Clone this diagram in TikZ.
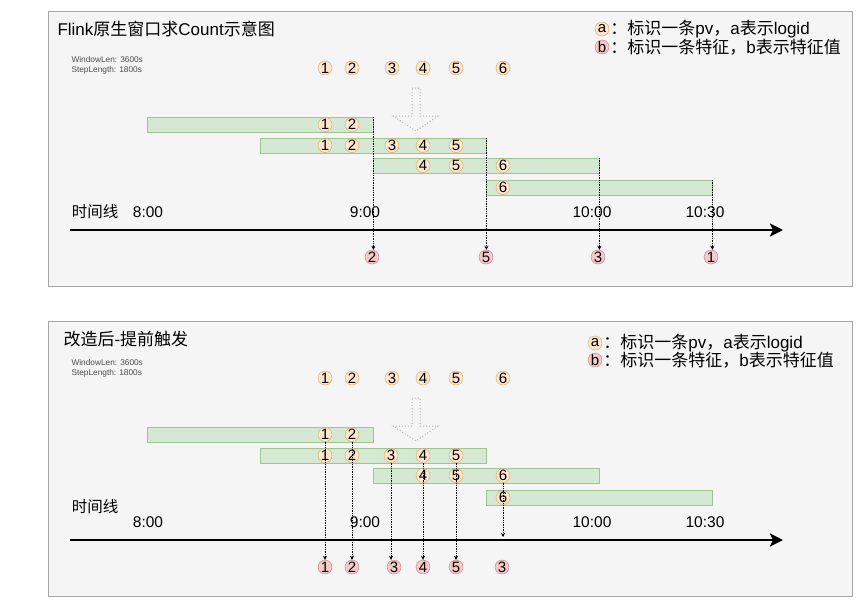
\documentclass[tikz,border=0pt]{standalone}
\usepackage{fontspec}
\setmainfont{Liberation Sans}
\newfontfamily\cjk{Noto Sans CJK SC}
\usetikzlibrary{arrows.meta, positioning}
\definecolor{panelbg}{HTML}{F5F5F5}
\definecolor{panelline}{HTML}{A6A6A6}
\definecolor{pvfill}{HTML}{FFE6CC}
\definecolor{pvline}{HTML}{D2A55E}
\definecolor{featfill}{HTML}{F6CACA}
\definecolor{featline}{HTML}{BF7A7A}
\definecolor{winfill}{HTML}{D5E8D4}
\definecolor{winline}{HTML}{9FC48F}

\begin{document}
\begin{tikzpicture}[x=1pt, y=-1pt,
    pv/.style={circle, draw=pvline, fill=pvfill, minimum size=14pt, inner sep=0pt, font=\fontsize{15}{15}\selectfont},
    feat/.style={circle, draw=featline, fill=featfill, minimum size=14pt, inner sep=0pt, font=\fontsize{15}{15}\selectfont},
    win/.style={rectangle, draw=winline, fill=winfill, minimum width=226pt, minimum height=15pt, inner sep=0pt, anchor=north west},
    heading/.style={anchor=west, font=\fontsize{17}{20}\selectfont},
    param/.style={anchor=west, align=left, text=black!70, font=\fontsize{8.3}{10}\selectfont},
    timetxt/.style={font=\fontsize{15.5}{18}\selectfont},
    legtxt/.style={font=\fontsize{17}{18}\selectfont, inner sep=1pt},
    trig/.style={densely dotted, line width=0.7pt, -{Stealth[length=4pt, width=4pt]}},
    axis/.style={line width=2.6pt, -{Stealth[length=13pt, width=13pt, inset=3pt]}},
    hollow/.style={dotted, draw=black!30, line width=1pt},
    panel/.style={draw=panelline, fill=panelbg, line width=0.8pt}]
    \useasboundingbox (0,0) rectangle (864,608);

    % panel 1: flink native window
    \draw[panel] (48,11) rectangle (852,286);
    \node[heading] (A) at (54,29) {Flink{\cjk 原生窗口求}Count{\cjk 示意图}};
    \node[param] (Aparam) at (68,65) {WindowLen: 3600s\\StepLength: 1800s};
    \node[pv] (La) at (602,29) {a};
    \node[legtxt, right=0pt of La] {{\cjk ：标识一条}pv{\cjk ，}a{\cjk 表示}logid};
    \node[feat] (Lb) at (602,47) {b};
    \node[legtxt, right=0pt of Lb] {{\cjk ：标识一条特征，}b{\cjk 表示特征值}};

    \node[pv] (An1) at (325,68) {1};
    \node[pv] (An2) at (352,68) {2};
    \node[pv] (An3) at (392,68) {3};
    \node[pv] (An4) at (423,68) {4};
    \node[pv] (An5) at (456,68) {5};
    \node[pv] (An6) at (503,68) {6};
    \draw[hollow] (412,88) -- (420,88) -- (420,116) -- (438,116) -- (416,131) -- (393,116) -- (412,116) -- cycle;

    \node[win] (A1) at (147,117) {};
    \node[win] (A2) at (260,138) {};
    \node[win] (A3) at (373,158) {};
    \node[win] (A4) at (486,180) {};
    \node[pv] (A1-1) at (325,124.5) {1};
    \node[pv] (A1-2) at (352,124.5) {2};
    \node[pv] (A2-1) at (325,145.5) {1};
    \node[pv] (A2-2) at (352,145.5) {2};
    \node[pv] (A2-3) at (392,145.5) {3};
    \node[pv] (A2-4) at (423,145.5) {4};
    \node[pv] (A2-5) at (456,145.5) {5};
    \node[pv] (A3-4) at (423,165.5) {4};
    \node[pv] (A3-5) at (456,165.5) {5};
    \node[pv] (A3-6) at (503,165.5) {6};
    \node[pv] (A4-6) at (503,187.5) {6};

    \node[timetxt] (At) at (95,212) {\cjk 时间线};
    \node[timetxt] (At800) at (148,212) {8:00};
    \node[timetxt] (At900) at (365,212) {9:00};
    \node[timetxt] (At1000) at (592,212) {10:00};
    \node[timetxt] (At1030) at (705,212) {10:30};
    \coordinate (Aax0) at (70,230);
    \coordinate (Aax1) at (783,230);
    \draw[axis] (Aax0) -- (Aax1);

    \node[feat] (Ar2) at (372,257) {2};
    \node[feat] (Ar5) at (486,257) {5};
    \node[feat] (Ar3) at (598,257) {3};
    \node[feat] (Ar1) at (711,257) {1};
    \draw[trig] (A1.north east) -- (A1.north east |- Ar2.north);
    \draw[trig] (A2.north east) -- (A2.north east |- Ar5.north);
    \draw[trig] (A3.north east) -- (A3.north east |- Ar3.north);
    \draw[trig] (A4.north east) -- (A4.north east |- Ar1.north);

    % panel 2: early trigger
    \draw[panel] (48,321) rectangle (852,596);
    \node[heading] (B) at (60,339) {{\cjk 改造后}-{\cjk 提前触发}};
    \node[param] (Bparam) at (68,368) {WindowLen: 3600s\\StepLength: 1800s};
    \node[pv] (Ma) at (595,343) {a};
    \node[legtxt, right=0pt of Ma] {{\cjk ：标识一条}pv{\cjk ，}a{\cjk 表示}logid};
    \node[feat] (Mb) at (595,360) {b};
    \node[legtxt, right=0pt of Mb] {{\cjk ：标识一条特征，}b{\cjk 表示特征值}};

    \node[pv] (Bn1) at (325,378) {1};
    \node[pv] (Bn2) at (352,378) {2};
    \node[pv] (Bn3) at (392,378) {3};
    \node[pv] (Bn4) at (423,378) {4};
    \node[pv] (Bn5) at (456,378) {5};
    \node[pv] (Bn6) at (503,378) {6};
    \draw[hollow] (412,398) -- (420,398) -- (420,426) -- (438,426) -- (416,441) -- (393,426) -- (412,426) -- cycle;

    \node[win] (B1) at (147,427) {};
    \node[win] (B2) at (260,448) {};
    \node[win] (B3) at (373,468) {};
    \node[win] (B4) at (486,490) {};
    \node[pv] (B1-1) at (325,434.5) {1};
    \node[pv] (B1-2) at (352,434.5) {2};
    \node[pv] (B2-1) at (325,455.5) {1};
    \node[pv] (B2-2) at (352,455.5) {2};
    \node[pv] (B2-3) at (391,455.5) {3};
    \node[pv] (B2-4) at (423,455.5) {4};
    \node[pv] (B2-5) at (456,455.5) {5};
    \node[pv] (B3-4) at (423,475.5) {4};
    \node[pv] (B3-5) at (456,475.5) {5};
    \node[pv] (B3-6) at (503,475.5) {6};
    \node[pv] (B4-6) at (503,497.5) {6};

    \node[timetxt] (Bt) at (95,507) {\cjk 时间线};
    \node[timetxt] (Bt800) at (148,522) {8:00};
    \node[timetxt] (Bt900) at (365,522) {9:00};
    \node[timetxt] (Bt1000) at (592,522) {10:00};
    \node[timetxt] (Bt1030) at (705,522) {10:30};
    \coordinate (Bax0) at (70,540);
    \coordinate (Bax1) at (783,540);
    \draw[axis] (Bax0) -- (Bax1);
    \coordinate (B6ax) at (503,537);

    \node[feat] (Br1) at (325,567) {1};
    \node[feat] (Br2) at (352,567) {2};
    \node[feat] (Br3) at (394,567) {3};
    \node[feat] (Br4) at (423,567) {4};
    \node[feat] (Br5) at (456,567) {5};
    \node[feat] (Br3b) at (502,567) {3};
    \draw[trig] (B1-1.south) -- (Br1.north);
    \draw[trig] (B1-2.south) -- (Br2.north);
    \draw[trig] (B2-3.south) -- (B2-3.south |- Br3.north);
    \draw[trig] (B2-4.south) -- (Br4.north);
    \draw[trig] (B2-5.south) -- (Br5.north);
    \draw[trig] (B3-6.south) -- (B6ax);
\end{tikzpicture}
\end{document}
